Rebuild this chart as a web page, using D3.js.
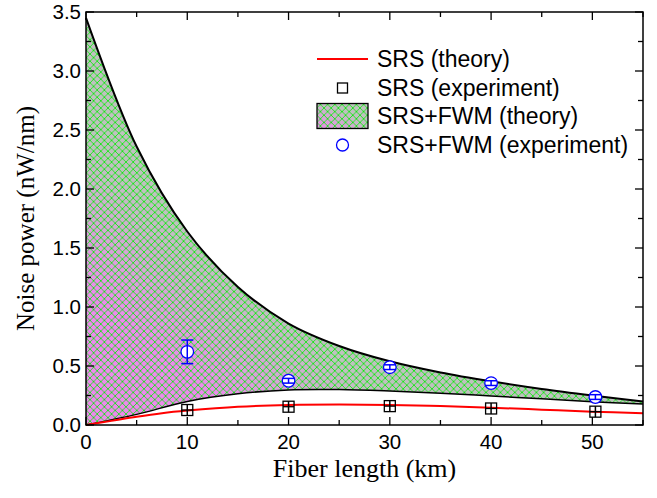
<!DOCTYPE html>
<html>
<head>
<meta charset="utf-8">
<script src="https://cdn.jsdelivr.net/npm/d3@7"></script>
<style>
  body { margin: 0; background: #fff; }
  text { font-family: "Liberation Sans", Arial, sans-serif; }
  .title { font-family: "Liberation Serif", "Times New Roman", serif; }
</style>
</head>
<body>
<div id="chart"></div>
<script>
// Data
const upperKm  = [0, 5, 10, 15, 20, 25, 30, 35, 40, 45, 50, 55];
const upperVal = [3.45, 2.36, 1.64, 1.17, 0.86, 0.67, 0.54, 0.445, 0.37, 0.305, 0.25, 0.2];

const lowerKm  = [0, 5, 10, 15, 20, 25, 30, 35, 40, 45, 50, 55];
const lowerVal = [0, 0.09, 0.2, 0.265, 0.297, 0.3, 0.288, 0.27, 0.246, 0.222, 0.198, 0.178];

const srsKm  = [0, 2.5, 5, 7.5, 10, 15, 20, 25, 30, 35, 40, 45, 50, 55];
const srsVal = [0, 0.035, 0.07, 0.1, 0.122, 0.155, 0.17, 0.174, 0.17, 0.16, 0.147, 0.13, 0.113, 0.1];

const expKm     = [10, 20, 30, 40, 50.3];
const srsExp    = [0.127, 0.155, 0.16, 0.14, 0.113];
const fwmExp    = [0.62, 0.375, 0.49, 0.355, 0.237];
const fwmErr    = [0.1, 0.02, 0.02, 0.02, 0.02];

const legendLabels = ["SRS (theory)", "SRS (experiment)", "SRS+FWM (theory)", "SRS+FWM (experiment)"];

// Set up dimensions
const width = 657, height = 498;
const margin = { left: 86, right: 14, top: 12, bottom: 73 };

const svg = d3.select("#chart")
    .append("svg")
    .attr("width", width)
    .attr("height", height);

const x = d3.scaleLinear().domain([0, 55]).range([margin.left, width - margin.right]);
const y = d3.scaleLinear().domain([0, 3.5]).range([height - margin.bottom, margin.top]);

// Gradient + crosshatch
const defs = svg.append("defs");
const grad = defs.append("linearGradient")
    .attr("id", "bandGrad")
    .attr("gradientUnits", "userSpaceOnUse")
    .attr("x1", x(0)).attr("y1", y(0))
    .attr("x2", x(30)).attr("y2", y(3.0));
grad.append("stop").attr("offset", 0.22).attr("stop-color", "#ee88ee");
grad.append("stop").attr("offset", 0.46).attr("stop-color", "#c0c0c0");

const lgGrad = defs.append("linearGradient")
    .attr("id", "legGrad")
    .attr("x1", 0).attr("y1", 1).attr("x2", 1).attr("y2", 0);
lgGrad.append("stop").attr("offset", 0).attr("stop-color", "#ee88ee");
lgGrad.append("stop").attr("offset", 0.6).attr("stop-color", "#c0c0c0");

const hatch = defs.append("pattern")
    .attr("id", "hatch")
    .attr("patternUnits", "userSpaceOnUse")
    .attr("width", 7.2).attr("height", 7.2);
hatch.append("path")
    .attr("d", "M0,0L7.2,7.2M0,7.2L7.2,0M-1,1L1,-1M6.2,8.2L8.2,6.2M-1,6.2L1,8.2M6.2,-1L8.2,1")
    .attr("stroke", "#00ee00")
    .attr("stroke-width", 0.8);

// Band between lower and upper theory curves
const upper = upperKm.map((k, i) => [k, upperVal[i]]);
const lower = lowerKm.map((k, i) => [k, lowerVal[i]]);
const lineGen = d3.line().x(d => x(d[0])).y(d => y(d[1])).curve(d3.curveCatmullRom);
const bandPath = lineGen(upper) + "L" + lineGen(lower.slice().reverse()).slice(1) + "Z";

svg.append("path").attr("d", bandPath).attr("fill", "url(#bandGrad)");
svg.append("path").attr("d", bandPath).attr("fill", "url(#hatch)");
svg.append("path").attr("d", lineGen(upper)).attr("fill", "none").attr("stroke", "#000").attr("stroke-width", 2);
svg.append("path").attr("d", lineGen(lower)).attr("fill", "none").attr("stroke", "#000").attr("stroke-width", 1.5);

// SRS theory
svg.append("path")
    .attr("d", lineGen(srsKm.map((k, i) => [k, srsVal[i]])))
    .attr("fill", "none").attr("stroke", "#ff0000").attr("stroke-width", 2);

// Error bar helper
function errBar(g, cx, lo, hi, capW, color) {
    g.append("line").attr("x1", cx).attr("x2", cx).attr("y1", lo).attr("y2", hi)
        .attr("stroke", color).attr("stroke-width", 1.5);
    if (capW > 0) [lo, hi].forEach(v => g.append("line")
        .attr("x1", cx - capW / 2).attr("x2", cx + capW / 2).attr("y1", v).attr("y2", v)
        .attr("stroke", color).attr("stroke-width", 1.5));
}

// SRS experiment squares
const sq = svg.append("g");
expKm.forEach((k, i) => {
    const cx = x(k), cy = y(srsExp[i]);
    sq.append("rect").attr("x", cx - 5.5).attr("y", cy - 5.5).attr("width", 11).attr("height", 11)
        .attr("fill", "none").attr("stroke", "#000").attr("stroke-width", 1.3);
    sq.append("line").attr("x1", cx - 5.5).attr("x2", cx + 5.5).attr("y1", cy).attr("y2", cy)
        .attr("stroke", "#000").attr("stroke-width", 1.3);
    errBar(sq, cx, cy - 5.5, cy + 5.5, 0, "#000");
});

// SRS+FWM experiment circles
const circ = svg.append("g");
expKm.forEach((k, i) => {
    const cx = x(k), cy = y(fwmExp[i]);
    circ.append("circle").attr("cx", cx).attr("cy", cy).attr("r", 6.3)
        .attr("fill", "#fff").attr("stroke", "#0000ff").attr("stroke-width", 1.3);
    errBar(circ, cx, y(fwmExp[i] - fwmErr[i]), y(fwmExp[i] + fwmErr[i]), 12, "#0000ff");
});

// Axes with inward ticks
const x0 = x(0), x1 = x(55), y0 = y(0), y1 = y(3.5);
const axes = svg.append("g");
axes.append("rect").attr("x", x0).attr("y", y1).attr("width", x1 - x0).attr("height", y0 - y1)
    .attr("fill", "none").attr("stroke", "#000").attr("stroke-width", 1.5);

d3.range(0, 55.1, 5).forEach(v => {
    const len = v % 10 === 0 ? 8 : 5;
    axes.append("line").attr("x1", x(v)).attr("x2", x(v)).attr("y1", y0).attr("y2", y0 - len).attr("stroke", "#000").attr("stroke-width", 1.3);
    axes.append("line").attr("x1", x(v)).attr("x2", x(v)).attr("y1", y1).attr("y2", y1 + len).attr("stroke", "#000").attr("stroke-width", 1.3);
});
d3.range(0, 3.51, 0.25).forEach(v => {
    const len = Math.abs(v * 2 - Math.round(v * 2)) < 1e-6 ? 8 : 5;
    axes.append("line").attr("x1", x0).attr("x2", x0 + len).attr("y1", y(v)).attr("y2", y(v)).attr("stroke", "#000").attr("stroke-width", 1.3);
    axes.append("line").attr("x1", x1).attr("x2", x1 - len).attr("y1", y(v)).attr("y2", y(v)).attr("stroke", "#000").attr("stroke-width", 1.3);
});

const xTicks = [0, 10, 20, 30, 40, 50];
const yTicks = d3.range(0, 3.51, 0.5);
axes.selectAll(".xl").data(xTicks).join("text")
    .attr("x", d => x(d)).attr("y", y0 + 24)
    .attr("text-anchor", "middle").attr("font-size", 20.5).text(d => d);
axes.selectAll(".yl").data(yTicks).join("text")
    .attr("x", x0 - 5).attr("y", d => y(d) + 7)
    .attr("text-anchor", "end").attr("font-size", 20.5).text(d => d3.format(".1f")(d));

svg.append("text").attr("class", "title")
    .attr("x", (x0 + x1) / 2).attr("y", 477)
    .attr("text-anchor", "middle").attr("font-size", 26).text("Fiber length (km)");
svg.append("text").attr("class", "title")
    .attr("transform", `translate(34,${(y0 + y1) / 2}) rotate(-90)`)
    .attr("text-anchor", "middle").attr("font-size", 25).text("Noise power (nW/nm)");

// Legend
const lg = svg.append("g");
const rowY = [59, 88, 116, 145];
const lx = 317, lw = 51, tx = 377;
lg.append("line").attr("x1", lx).attr("x2", lx + lw).attr("y1", rowY[0]).attr("y2", rowY[0])
    .attr("stroke", "#ff0000").attr("stroke-width", 2);
lg.append("rect").attr("x", lx + lw / 2 - 5).attr("y", rowY[1] - 5).attr("width", 10).attr("height", 10)
    .attr("fill", "none").attr("stroke", "#000").attr("stroke-width", 1.3);
lg.append("rect").attr("x", lx).attr("y", rowY[2] - 12.5).attr("width", lw).attr("height", 25)
    .attr("fill", "url(#legGrad)");
lg.append("rect").attr("x", lx).attr("y", rowY[2] - 12.5).attr("width", lw).attr("height", 25)
    .attr("fill", "url(#hatch)").attr("stroke", "#000").attr("stroke-width", 1.3);
lg.append("circle").attr("cx", lx + lw / 2).attr("cy", rowY[3]).attr("r", 6)
    .attr("fill", "none").attr("stroke", "#0000ff").attr("stroke-width", 1.3);
lg.selectAll(".lt").data(legendLabels).join("text")
    .attr("x", tx).attr("y", (d, i) => rowY[i] + 8)
    .attr("font-size", 23).text(d => d);
</script>
</body>
</html>
